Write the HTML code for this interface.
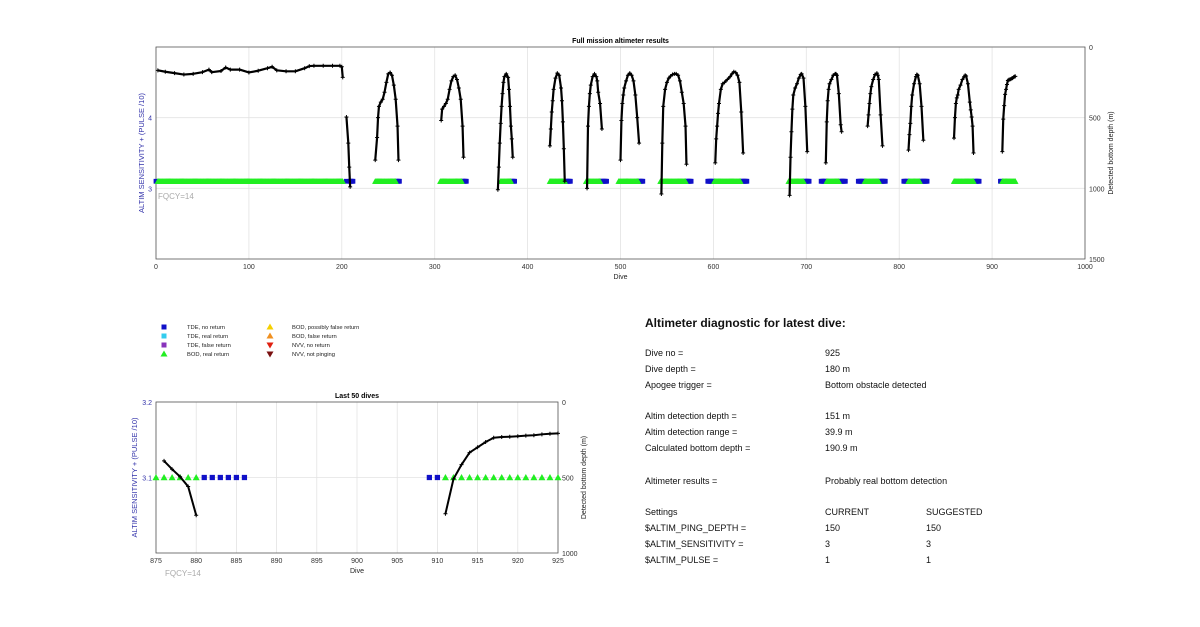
<!DOCTYPE html>
<html><head><meta charset="utf-8">
<style>
body{margin:0;background:#fff;width:1200px;height:622px;overflow:hidden;font-family:"Liberation Sans",Arial,sans-serif}
svg text{font-family:"Liberation Sans",Arial,sans-serif}
</style></head>
<body>
<svg id="c" width="1200" height="622" viewBox="0 0 1200 622" xmlns="http://www.w3.org/2000/svg">
<g id="main"></g>
<g id="small"></g>
<g id="legend"></g>
<g id="diag" font-size="9" fill="#111">
<text x="645" y="327" font-size="12" font-weight="bold">Altimeter diagnostic for latest dive:</text>
<text x="645" y="356">Dive no =</text><text x="825" y="356">925</text>
<text x="645" y="372">Dive depth =</text><text x="825" y="372">180 m</text>
<text x="645" y="388">Apogee trigger =</text><text x="825" y="388">Bottom obstacle detected</text>
<text x="645" y="419">Altim detection depth =</text><text x="825" y="419">151 m</text>
<text x="645" y="435">Altim detection range =</text><text x="825" y="435">39.9 m</text>
<text x="645" y="451">Calculated bottom depth =</text><text x="825" y="451">190.9 m</text>
<text x="645" y="484">Altimeter results =</text><text x="825" y="484">Probably real bottom detection</text>
<text x="645" y="515">Settings</text><text x="825" y="515">CURRENT</text><text x="926" y="515">SUGGESTED</text>
<text x="645" y="531">$ALTIM_PING_DEPTH =</text><text x="825" y="531">150</text><text x="926" y="531">150</text>
<text x="645" y="547">$ALTIM_SENSITIVITY =</text><text x="825" y="547">3</text><text x="926" y="547">3</text>
<text x="645" y="563">$ALTIM_PULSE =</text><text x="825" y="563">1</text><text x="926" y="563">1</text>
</g>
</svg>
<script>
const segDives = [
[2,10,20,30,40,50,57,60,70,75,80,90,100,110,120,125,130,140,150,160,165,170,180,190,198,200,201],
[205,207,208,209],
[236,238,239,240,242,244,246,248,250,252,254,256,258,260,261],
[307,308,310,312,314,316,318,320,322,324,326,328,330,331],
[368,369,370,371,372,373,374,375,377,379,380,381,382,383,384],
[424,425,426,427,428,430,432,434,436,437,438,439,440],
[464,465,466,467,468,470,472,474,475,476,478,480],
[500,501,502,503,504,506,508,510,512,514,516,518,520],
[544,545,546,548,550,552,554,556,558,560,562,564,566,568,570,571],
[602,603,604,605,606,608,610,612,615,618,620,622,624,626,628,630,632],
[682,683,684,685,686,688,690,692,694,695,697,699,701],
[721,722,723,724,725,727,729,731,732,733,735,737,738],
[766,767,768,769,770,772,774,776,777,778,780,782],
[810,811,812,813,814,816,818,819,820,822,824,826],
[859,860,861,862,863,864,866,868,870,871,872,874,876,877,878,879,880],
[911,912,913,914,915,916,917,918,919,920,921,922,923,924,925]
];
const segDepths = [
[165,175,185,195,190,178,160,178,170,145,160,160,180,168,150,140,165,172,172,150,135,133,133,133,133,140,215],
[495,680,850,990],
[800,640,500,420,390,370,320,250,190,180,200,270,370,560,800],
[520,440,420,400,370,300,240,210,200,230,290,370,560,780],
[1010,850,680,540,420,330,250,210,190,215,300,420,560,650,780],
[700,580,460,380,300,220,185,200,290,380,530,720,950],
[1000,560,420,330,270,210,190,210,240,320,400,580],
[800,520,400,340,290,240,200,185,200,240,340,500,680],
[1040,680,420,300,250,220,205,195,190,190,200,240,320,400,560,830],
[820,650,560,470,400,300,260,250,230,210,190,175,180,200,250,460,750],
[1050,780,600,440,340,290,260,220,195,190,220,420,740],
[820,530,380,300,260,230,200,190,190,200,330,550,600],
[560,480,400,330,280,230,195,185,200,230,480,700],
[730,620,540,420,340,260,210,195,200,260,420,660],
[645,500,400,360,340,300,270,230,210,200,205,260,390,445,495,560,750],
[740,510,415,335,300,265,237,232,230,227,223,220,214,210,208]
];
const greenRanges = [[2,201],[236,258],[306,329],[371,382],[424,440],[463,478],[498,519],[543,570],[601,629],[681,697],[722,735],[763,778],[810,822],[859,880],[911,925]];
const blueRanges = [[0,0],[205,205],[209,212],[259,262],[330,334],[383,386],[441,446],[479,485],[520,524],[571,576],[594,600],[630,636],[698,703],[716,721],[736,742],[756,762],[779,785],[805,809],[823,830],[881,886],[909,910]];
const markerLevel = 3.1;
const mainXTicks = [0,100,200,300,400,500,600,700,800,900,1000];
const mainLeftTicks = [3,4];
const mainRightTicks = [0,500,1000,1500];
const smallXTicks = [875,880,885,890,895,900,905,910,915,920,925];
const smallLeftTicks = [3.1,3.2];
const smallRightTicks = [0,500,1000];

const NS='http://www.w3.org/2000/svg';
function mk(parent,tag,attrs,text){const e=document.createElementNS(NS,tag);for(const k in attrs)e.setAttribute(k,attrs[k]);if(text!==undefined)e.textContent=text;parent.appendChild(e);return e;}

function drawChart(g,cfg){
  const {x0,x1,y0,y1,xmin,xmax,lmin,lmax,dmax}=cfg;
  const X=v=>x0+(v-xmin)/(xmax-xmin)*(x1-x0);
  const YL=v=>y1-(v-lmin)/(lmax-lmin)*(y1-y0);
  const YD=d=>y0+d/dmax*(y1-y0);
  cfg.xTicks.forEach(t=>{
    const l=mk(g,'line',{x1:X(t),x2:X(t),y1:y0,y2:y1,stroke:'#e3e3e3','stroke-width':0.8});
    
    
    const tx=mk(g,'text',{x:X(t),y:y1+10,'font-size':7,'text-anchor':'middle',fill:'#333'},t);
    
    
  });
  cfg.lTicks.forEach(t=>{
    const l=mk(g,'line',{x1:x0,x2:x1,y1:YL(t),y2:YL(t),stroke:'#e3e3e3','stroke-width':0.8});
    
    
    const tx=mk(g,'text',{x:x0-4,y:YL(t)+3,'font-size':7,'text-anchor':'end',fill:'#3333aa'},t);
    
    
  });
  cfg.rTicks.forEach(t=>{
    const tx=mk(g,'text',{x:x1+4,y:YD(t)+3,'font-size':7,fill:'#333'},t);
    
    
  });
  const fr=mk(g,'rect',{x:x0,y:y0,width:x1-x0,height:y1-y0,fill:'none',stroke:'#555','stroke-width':0.8});
  
  
  const my=YL(markerLevel);
  const s=cfg.ms;
  blueRanges.forEach(r=>{for(let d=r[0];d<=r[1];d++){if(d<xmin||d>xmax)continue;
    const p=mk(g,'rect',{x:X(d)-s*0.75,y:my-s*0.75,width:s*1.5,height:s*1.5,fill:'#1010c8'});
    
    }});
  greenRanges.forEach(r=>{for(let d=r[0];d<=r[1];d++){if(d<xmin||d>xmax)continue;
    const p=mk(g,'polygon',{points:`${X(d)-s},${my+s*0.8} ${X(d)+s},${my+s*0.8} ${X(d)},${my-s}`,fill:'#22ee22'});
    
    }});
  segDives.forEach((ds,i)=>{
    const pts=[];ds.forEach((d,j)=>{if(d>=xmin&&d<=xmax)pts.push([X(d),YD(segDepths[i][j])]);});
    if(!pts.length)return;
    const pl=mk(g,'polyline',{points:pts.map(p=>p.join(',')).join(' '),fill:'none',stroke:'#000','stroke-width':cfg.lw,'stroke-linejoin':'round'});
    
    
    pts.forEach(p=>{const c=mk(g,'path',{d:`M${p[0]-2},${p[1]}h4M${p[0]},${p[1]-2}v4`,stroke:'#000','stroke-width':1});
      
      });
  });
  const t=mk(g,'text',{x:(x0+x1)/2,y:y0-4,'font-size':7,'font-weight':'bold','text-anchor':'middle'},cfg.title);
  
  
  const xl=mk(g,'text',{x:(x0+x1)/2,y:y1+20,'font-size':7,'text-anchor':'middle',fill:'#222'},'Dive');
  
  
  const yl=mk(g,'text',{x:0,y:0,'font-size':7.5,'text-anchor':'middle',fill:'#3333aa',transform:`translate(${x0-cfg.ylOff},${(y0+y1)/2}) rotate(-90)`},'ALTIM SENSITIVITY + (PULSE /10)');
  
  
  const yr=mk(g,'text',{x:0,y:0,'font-size':7,'text-anchor':'middle',fill:'#222',transform:`translate(${x1+28},${(y0+y1)/2}) rotate(-90)`},'Detected bottom depth (m)');
  
  
  const fq=mk(g,'text',{x:cfg.fqx,y:cfg.fqy,'font-size':8,fill:'#aaa'},'FQCY=14');
  
  
}
drawChart(document.getElementById('main'),{x0:156,x1:1085,y0:47,y1:259,xmin:0,xmax:1000,lmin:2,lmax:5,dmax:1500,
  xTicks:mainXTicks,lTicks:mainLeftTicks,rTicks:mainRightTicks,ms:3.2,lw:2.2,title:'Full mission altimeter results',fqx:158,fqy:199,ylOff:12});
drawChart(document.getElementById('small'),{x0:156,x1:558,y0:402,y1:553,xmin:875,xmax:925,lmin:3.0,lmax:3.2,dmax:1000,
  xTicks:smallXTicks,lTicks:smallLeftTicks,rTicks:smallRightTicks,ms:3.5,lw:2,title:'Last 50 dives',fqx:165,fqy:576,ylOff:19});

const legNames=['TDE, no return','TDE, real return','TDE, false return','BOD, real return','BOD, possibly false return','BOD, false return','NVV, no return','NVV, not pinging'];
const legColors=['#1010c8','#33ccee','#8833bb','#22ee22','#f5d000','#f09020','#e02010','#7a1010'];
const legShapes=['sq','sq','sq','up','up','up','dn','dn'];
const lg=document.getElementById('legend');
legNames.forEach((n,i)=>{
  const col=i<4?0:1, row=i%4;
  const mx=col?270:164, tx=col?292:187, y=327+row*9;
  let m;
  if(legShapes[i]==='sq') m=mk(lg,'rect',{x:mx-2.5,y:y-2.5,width:5,height:5,fill:legColors[i]});
  else if(legShapes[i]==='up') m=mk(lg,'polygon',{points:`${mx-3.5},${y+2.5} ${mx+3.5},${y+2.5} ${mx},${y-3.5}`,fill:legColors[i]});
  else m=mk(lg,'polygon',{points:`${mx-3.5},${y-2.5} ${mx+3.5},${y-2.5} ${mx},${y+3.5}`,fill:legColors[i]});
  
  
  const t=mk(lg,'text',{x:tx,y:y+2,'font-size':5.8,fill:'#222'},n);
  
  
});
</script>
</body></html>
